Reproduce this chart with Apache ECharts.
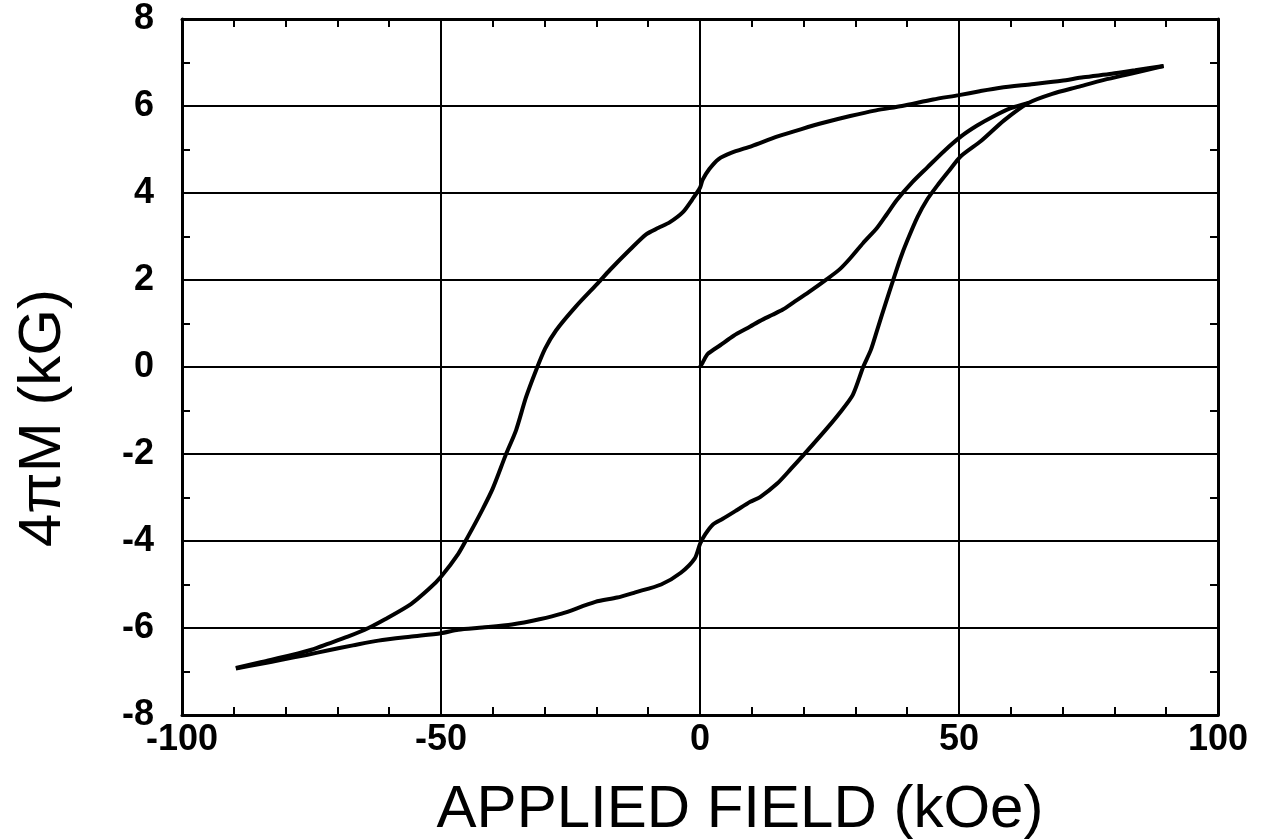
<!DOCTYPE html>
<html>
<head>
<meta charset="utf-8">
<script src="https://cdn.jsdelivr.net/npm/echarts@6/dist/echarts.min.js"></script>
<style>
html,body{margin:0;padding:0;background:#fff;}
#chart{width:1263px;height:840px;}
</style>
</head>
<body>
<div id="chart"></div>
<script>
// Axis ranges and tick steps
const xRange = [-100, 100];
const xStep = 50;
const yRange = [-8, 8];
const yStep = 2;

// Axis titles
const xTitle = 'APPLIED FIELD (kOe)';
const yTitle = '4\u03c0M (kG)';

// Descending branch: from +H max down to -H max  [field kOe, 4piM kG]
const descendingBranch = [
  [89.5, 6.92], [84, 6.82], [79.5, 6.74], [74, 6.66], [69.8, 6.58], [64, 6.5],
  [58, 6.42], [54, 6.34], [50, 6.25], [45, 6.15], [39, 6.0], [34, 5.9],
  [29, 5.77], [24, 5.62], [19.6, 5.47], [15, 5.3], [10, 5.08], [6, 4.92],
  [3.6, 4.78], [1.8, 4.55], [0.5, 4.3], [0, 4.12], [-1.5, 3.85], [-3.3, 3.56],
  [-5.8, 3.33], [-8, 3.2], [-10.4, 3.05], [-13.5, 2.7], [-17.4, 2.23],
  [-19.7, 1.93], [-23.9, 1.4], [-27.8, 0.84], [-29.9, 0.42], [-31.7, -0.09],
  [-33.6, -0.7], [-35.5, -1.45], [-37.5, -2.02], [-40, -2.79], [-42.1, -3.3],
  [-44.8, -3.9], [-46.7, -4.3], [-50, -4.82], [-52.3, -5.1], [-55.8, -5.45],
  [-60.8, -5.8], [-64, -6.0], [-68, -6.2], [-71.7, -6.36], [-75, -6.5],
  [-78.8, -6.62], [-84.6, -6.78], [-89.6, -6.92]
];

// Ascending branch: from -H max up to +H max
const ascendingBranch = [
  [-89.6, -6.93], [-85, -6.83], [-80.8, -6.73], [-76, -6.62], [-71.7, -6.51],
  [-67, -6.4], [-62.1, -6.29], [-56, -6.2], [-50, -6.12], [-46.7, -6.04],
  [-42, -5.99], [-36.3, -5.92], [-31, -5.8], [-26.7, -5.67], [-20.2, -5.4],
  [-16, -5.3], [-12.5, -5.18], [-7.5, -5.0], [-3.7, -4.73], [-1, -4.4],
  [0, -4.07], [1, -3.85], [2.5, -3.62], [4.4, -3.49], [7, -3.3], [9.7, -3.1],
  [11.6, -2.99], [14.9, -2.68], [17.5, -2.35], [20.3, -1.98], [24.5, -1.41],
  [27, -1.05], [29.5, -0.64], [31.5, 0], [33, 0.4], [34.2, 0.85], [35.8, 1.45],
  [37.3, 2.0], [38.7, 2.5], [40, 2.9], [42, 3.45], [43.8, 3.84], [46, 4.2],
  [48, 4.5], [50.4, 4.85], [54.3, 5.2], [58.7, 5.67], [63.4, 6.07], [68, 6.28],
  [73, 6.44], [78, 6.6], [82.7, 6.73], [86, 6.82], [89.5, 6.92]
];

// Initial (virgin) magnetization curve from the origin
const virginCurve = [
  [0, 0], [0.5, 0.1], [1.5, 0.3], [3.9, 0.5], [6.5, 0.72], [9.7, 0.93],
  [11.6, 1.06], [14, 1.2], [16, 1.32], [18, 1.48], [21, 1.72], [24.5, 2.02],
  [27, 2.25], [29, 2.5], [31.5, 2.85], [34.2, 3.2], [36, 3.5], [38, 3.84],
  [41, 4.25], [43.9, 4.59], [47, 4.95], [50.4, 5.3], [53.5, 5.55], [56.8, 5.77],
  [60, 5.95], [63.4, 6.07]
];

const chart = echarts.init(document.getElementById('chart'), null, {renderer: 'canvas'});

const labelFont = {
  color: '#000', fontSize: 36, fontWeight: 'bold',
  fontFamily: 'Liberation Sans, Arial, sans-serif'
};
const frameLine = {show: true, onZero: false, lineStyle: {color: '#000', width: 3}};
const gridLine = {show: true, lineStyle: {color: '#000', width: 2, type: 'solid'}};
const minor = (n) => ({show: true, splitNumber: n, length: 8, lineStyle: {color: '#000', width: 2}});

const lineSeries = (name, data) => ({
  name, type: 'line', data, xAxisIndex: 0, yAxisIndex: 0,
  showSymbol: false, symbol: 'none', smooth: 0.25,
  lineStyle: {color: '#000', width: 4}, z: 5
});

chart.setOption({
  animation: false,
  backgroundColor: '#fff',
  grid: {left: 182, right: 45, top: 19, bottom: 125, containLabel: false},
  xAxis: [
    {
      type: 'value', min: xRange[0], max: xRange[1], interval: xStep, position: 'bottom',
      axisLine: frameLine, axisTick: {show: false, inside: true}, minorTick: minor(5),
      splitLine: gridLine,
      axisLabel: Object.assign({margin: 7}, labelFont)
    },
    {
      type: 'value', min: xRange[0], max: xRange[1], interval: xStep, position: 'top',
      axisLine: frameLine, axisTick: {show: false, inside: true}, minorTick: minor(5),
      splitLine: {show: false}, axisLabel: {show: false}
    }
  ],
  yAxis: [
    {
      type: 'value', min: yRange[0], max: yRange[1], interval: yStep, position: 'left',
      axisLine: frameLine, axisTick: {show: false, inside: true}, minorTick: minor(2),
      splitLine: gridLine,
      axisLabel: Object.assign({margin: 28}, labelFont)
    },
    {
      type: 'value', min: yRange[0], max: yRange[1], interval: yStep, position: 'right',
      axisLine: frameLine, axisTick: {show: false, inside: true}, minorTick: minor(2),
      splitLine: {show: false}, axisLabel: {show: false}
    }
  ],
  graphic: [
    {
      type: 'text', x: 740, y: 810,
      style: {
        text: xTitle, fill: '#000', align: 'center', verticalAlign: 'middle',
        font: 'normal 60px "Liberation Sans", Arial, sans-serif'
      }
    },
    {
      type: 'text', x: 43, y: 418, rotation: Math.PI / 2,
      style: {
        text: yTitle, fill: '#000', align: 'center', verticalAlign: 'middle',
        font: 'normal 60px "Liberation Sans", Arial, sans-serif'
      }
    }
  ],
  series: [
    lineSeries('descending', descendingBranch),
    lineSeries('ascending', ascendingBranch),
    lineSeries('virgin', virginCurve)
  ]
});
</script>
</body>
</html>
